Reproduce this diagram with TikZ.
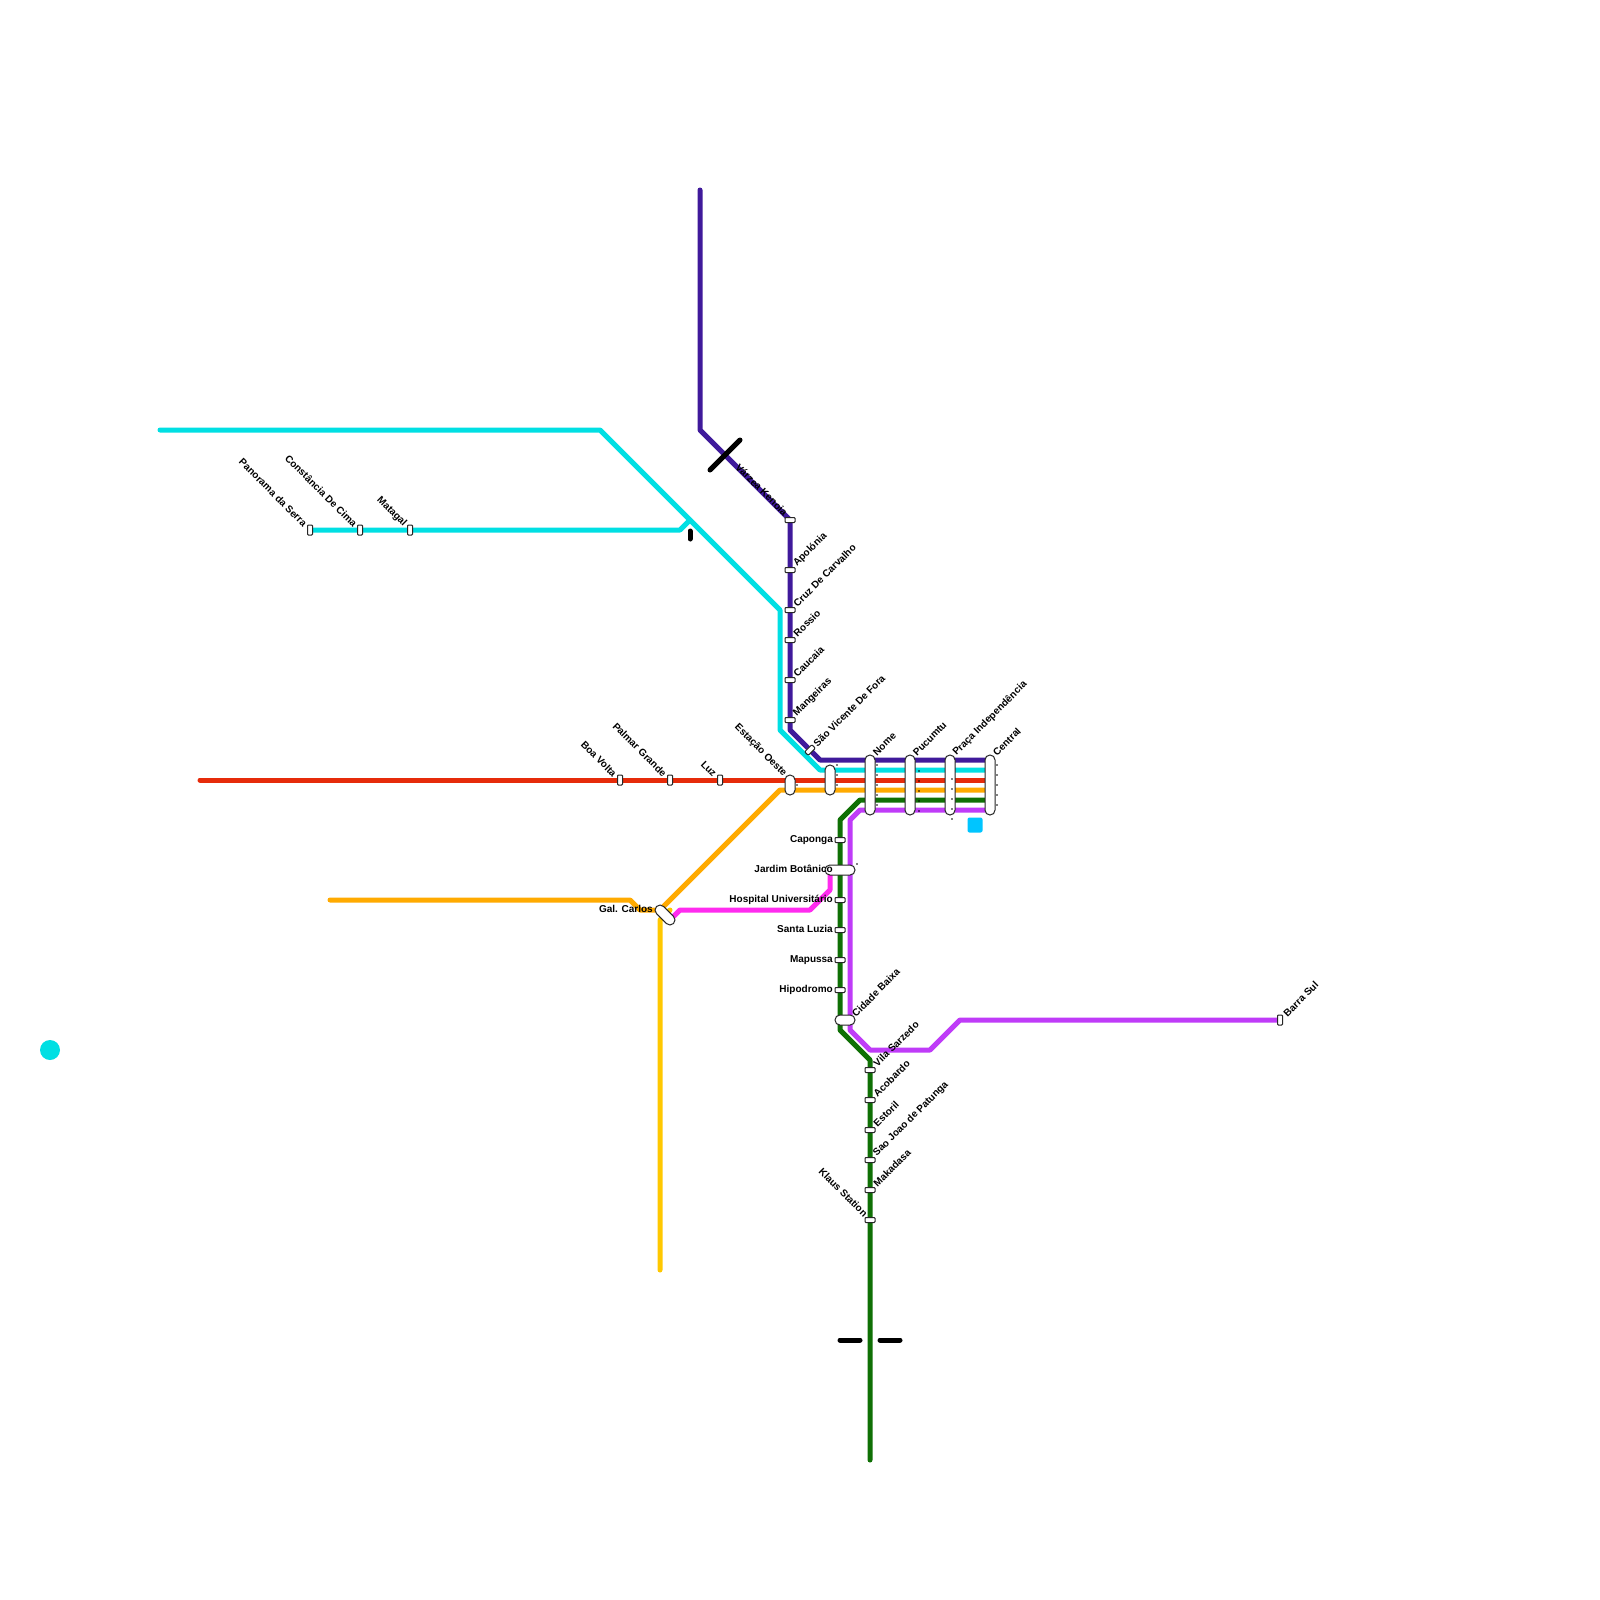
\documentclass[tikz,border=0pt]{standalone}
\usepackage{fontspec}
\setmainfont{Liberation Sans}
\definecolor{cIndigo}{HTML}{3F1A9B}
\definecolor{cCyan}{HTML}{00DFE3}
\definecolor{cRed}{HTML}{E62B0A}
\definecolor{cOrange}{HTML}{FFAA00}
\definecolor{cYellow}{HTML}{FFC800}
\definecolor{cGreen}{HTML}{0F7005}
\definecolor{cViolet}{HTML}{BF3BF8}
\definecolor{cMagenta}{HTML}{FF2BEF}
\definecolor{cSky}{HTML}{00C5FF}
\tikzset{
  route/.style={line width=5pt,line cap=round,line join=round},
  bar/.style={line width=5pt,line cap=round,black},
  stn/.style={draw=black!85,fill=white,line width=1pt,rounded corners=#1,inner sep=0pt,outer sep=0pt,text width=0pt},
  small/.style={stn=0.9pt,minimum width=10pt,minimum height=5pt},
  smallv/.style={stn=0.9pt,minimum width=5pt,minimum height=10pt},
  pillh/.style={stn=4.9pt,minimum height=10pt},
  pillv/.style={stn=4.9pt,minimum width=10pt},
  lab/.style={font=\fontsize{10}{10}\selectfont\bfseries,inner sep=0pt,text=black},
  labr/.style={lab,anchor=west,rotate=45},
  labl/.style={lab,anchor=east,rotate=-45},
  labw/.style={lab,anchor=east},
}
\begin{document}
\begin{tikzpicture}[x=1pt,y=-1pt]
\useasboundingbox (0,0) rectangle (1600,1600);
\fill[white] (0,0) rectangle (1600,1600);
% routes
\draw[route,cCyan] (160,430) -- (600,430) -- (780,610) -- (780,730) -- (820,770) -- (990,770);
\draw[route,cCyan] (310,530) -- (680,530) -- (690,520);
\draw[route,cIndigo] (700,190) -- (700,430) -- (790,520) -- (790,730) -- (820,760) -- (990,760);
\draw[route,cRed] (200,780) -- (990,780);
\draw[route,cYellow] (660,1270) -- (660,920) -- (670,910);
\draw[route,cOrange] (330,900) -- (630,900) -- (640,910) -- (660,910) -- (780,790) -- (990,790);
\draw[route,cMagenta] (670,920) -- (680,910) -- (810,910) -- (830,890) -- (830,870);
\draw[route,cViolet] (1280,1020) -- (960,1020) -- (930,1050) -- (870,1050) -- (850,1030) -- (850,820) -- (860,810) -- (990,810);
\draw[route,cGreen] (870,1460) -- (870,1060) -- (840,1030) -- (840,820) -- (860,800) -- (990,800);
% bars
\draw[bar] (710,470) -- (740,440);
\draw[bar] (690,531) -- (690,539);
\draw[bar] (840,1340) -- (860,1340);
\draw[bar] (880,1340) -- (900,1340);
% free shapes
\fill[cCyan] (50,1050) circle (10);
\fill[cSky,rounded corners=2pt] (967.5,817.5) rectangle (982.5,832.5);
% stations
\node[smallv] (panorama) at (310,530) {};
\node[smallv] (constancia) at (360,530) {};
\node[smallv] (matagal) at (410,530) {};
\node[smallv] (boavolta) at (620,780) {};
\node[smallv] (palmar) at (670,780) {};
\node[smallv] (luz) at (720,780) {};
\node[pillv,minimum height=20pt] (oeste) at (790,785) {};
\node[pillv,minimum height=30pt] (vicente2) at (830,780) {};
\node[pillv,minimum height=60pt] (nome) at (870,785) {};
\node[pillv,minimum height=60pt] (pucumtu) at (910,785) {};
\node[pillv,minimum height=60pt] (praca) at (950,785) {};
\node[pillv,minimum height=60pt] (central) at (990,785) {};
\node[small] (varzea) at (790,520) {};
\node[small] (apolonia) at (790,570) {};
\node[small] (cruz) at (790,610) {};
\node[small] (rossio) at (790,640) {};
\node[small] (caucaia) at (790,680) {};
\node[small] (mangeiras) at (790,720) {};
\node[small,rotate=45] (vicente) at (810,750) {};
\node[small] (caponga) at (840,840) {};
\node[pillh,minimum width=30pt] (jardim) at (840,870) {};
\node[small] (hospital) at (840,900) {};
\node[small] (luzia) at (840,930) {};
\node[small] (mapussa) at (840,960) {};
\node[small] (hipodromo) at (840,990) {};
\node[pillh,minimum width=20pt] (cidade) at (845,1020) {};
\node[small] (vila) at (870,1070) {};
\node[small] (acobardo) at (870,1100) {};
\node[small] (estoril) at (870,1130) {};
\node[small] (patunga) at (870,1160) {};
\node[small] (makadasa) at (870,1190) {};
\node[small] (klaus) at (870,1220) {};
\node[smallv] (barra) at (1280,1020) {};
\node[pillh,minimum width=24pt,rotate=-45] (gal) at (665,915) {};
% labels
\node[labl] at (305.5,525) {Panorama da Serra};
\node[labl] at (355.5,525) {Constância De Cima};
\node[labl] at (405,525) {Matagal};
\node[labl] at (615,775) {Boa Volta};
\node[labl] at (665,775) {Palmar Grande};
\node[labl] at (715,775) {Luz};
\node[labl] at (785,775) {Estação Oeste};
\node[labl] at (786,514) {Várzea Kenoia};
\node[labl] at (866,1215) {Klaus Station};
\node[labr] at (795,565) {Apolónia};
\node[labr] at (795,605) {Cruz De Carvalho};
\node[labr] at (795,635) {Rossio};
\node[labr] at (795,675) {Caucaia};
\node[labr] at (795,715) {Mangeiras};
\node[labr] at (815,745) {São Vicente De Fora};
\node[labr] at (874.5,754) {Nome};
\node[labr] at (914.5,754) {Pucumtu};
\node[labr] at (954.5,754) {Praça Independência};
\node[labr] at (994.5,754) {Central};
\node[labr] at (853.5,1015) {Cidade Baixa};
\node[labr] at (875,1065) {Vila Sarzedo};
\node[labr] at (875,1095) {Acobardo};
\node[labr] at (875,1125) {Estoril};
\node[labr] at (875,1155) {Sao Joao de Patunga};
\node[labr] at (875,1185) {Makadasa};
\node[labr] at (1285,1015) {Barra Sul};
\node[labw] at (833,840) {Caponga};
\node[labw] at (833,869) {Jardim Botânico};
\node[labw] at (833,900) {Hospital Universitário};
\node[labw] at (833,929) {Santa Luzia};
\node[labw] at (833,960) {Mapussa};
\node[labw] at (833,989.5) {Hipodromo};
\node[labw] at (653,909) {Gal. Carlos};
% specks
\foreach \y in {765,775,785} \fill[black] (837,\y) circle (0.8);
\fill[black] (797,785) circle (0.8);
\foreach \y in {765,775,785,795,805} {\fill[black] (877,\y) circle (0.8); \fill[black] (997,\y) circle (0.8);}
\foreach \y in {771,781,791,801,811} \fill[black] (919,\y) circle (0.8);
\foreach \y in {779,789,799,809,819} \fill[black] (952,\y) circle (0.8);
\fill[black] (857,864) circle (0.8);
\end{tikzpicture}
\end{document}
